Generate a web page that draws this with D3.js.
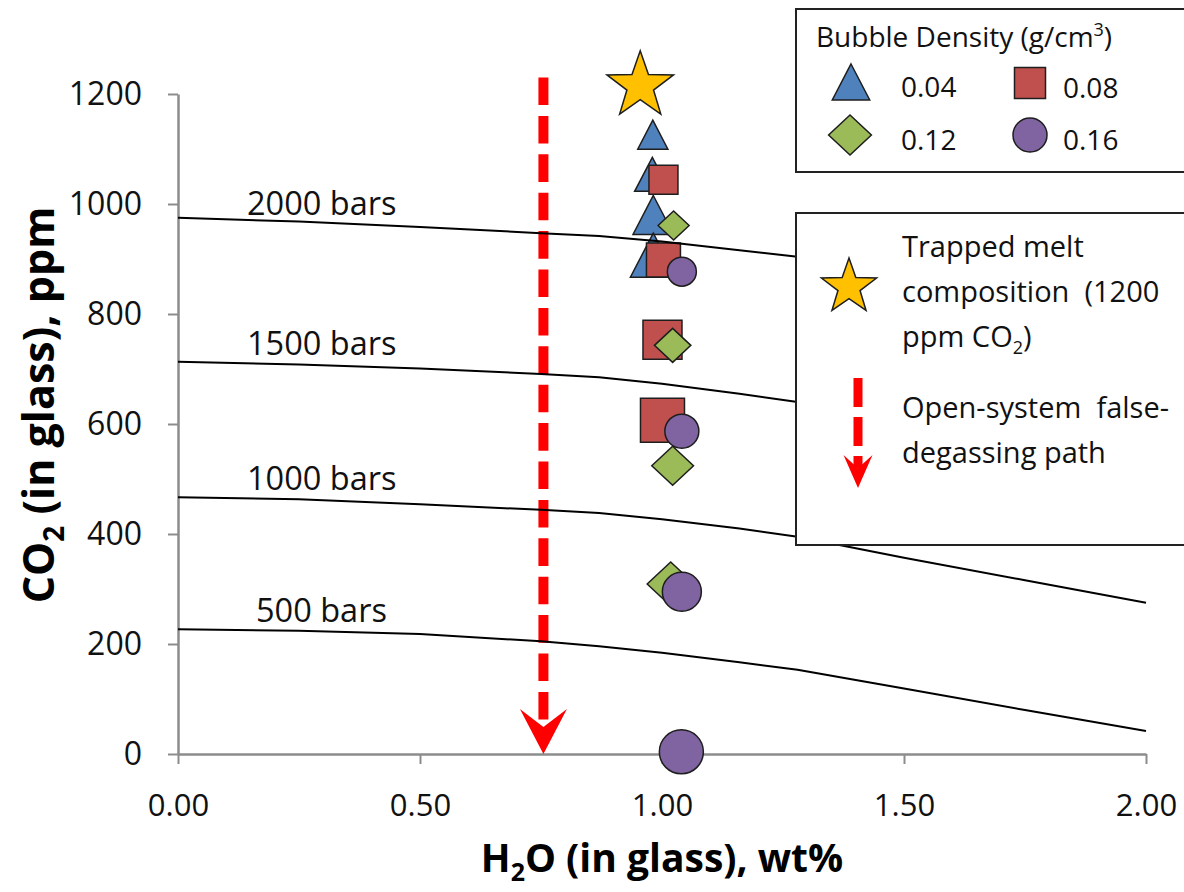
<!DOCTYPE html>
<html>
<head>
<meta charset="utf-8">
<script src="https://cdn.jsdelivr.net/npm/d3@7"></script>
<style>
  body { margin: 0; background: #fff; }
  svg { display: block; font-family: 'Open Sans', sans-serif; }
</style>
</head>
<body>
<div id="container"></div>
<script>
// ---- values ----
const xTicks = [0, 0.5, 1.0, 1.5, 2.0]
const yTicks = [0, 200, 400, 600, 800, 1000, 1200]

// isobars, all on one H2O grid (wt%) -> CO2 (ppm)
const isobarH2O = [0, 0.25, 0.5, 0.75, 0.87, 1.0, 1.16, 1.28, 1.5, 1.75, 2.0]
const isobarNames = ['2000 bars', '1500 bars', '1000 bars', '500 bars']
const co2Bars2000 = [975, 968, 958, 947, 942, 932, 916, 904, 868, 828, 790]
const co2Bars1500 = [713, 708, 701, 691, 685, 673, 655, 640, 610, 575, 540]
const co2Bars1000 = [467, 463, 454, 444, 438, 427, 410, 395, 357, 316, 275]
const co2Bars500 = [227, 224, 218, 205, 196, 184, 167, 153, 119, 80, 42]

// bubble density groups (g/cm3)
const densityLabels = ['0.04', '0.08', '0.12', '0.16']
const h2oD004 = [0.981, 0.980, 0.982, 0.982]
const co2D004 = [1126, 1054, 980, 907]
const h2oD008 = [1.003, 1.003, 1.001, 1.001]
const co2D008 = [1044, 898, 753, 607]
const h2oD012 = [1.024, 1.022, 1.022, 1.018]
const co2D012 = [961, 743, 524, 309]
const h2oD016 = [1.041, 1.041, 1.041, 1.040]
const co2D016 = [877, 587, 295, 4]

// trapped melt composition (star)
const meltH2O = [0.955]
const meltCO2 = [1215]

// open-system false-degassing path (red dashed arrow)
const pathH2O = [0.755, 0.755]
const pathCO2 = [1230, 0]

// ---- chart setup ----
const width = 1184
const height = 892
const colors = ['#4f81bd', '#c0504d', '#9bbb59', '#8064a2']
const shapes = ['triangle', 'square', 'diamond', 'circle']
const axisGray = '#8c8c8c'

const x = d3.scaleLinear().domain([0, 2]).range([178, 1146])
const y = d3.scaleLinear().domain([0, 1200]).range([754, 94])
// markers grow along each series
const markerSize = d3.scaleLinear().domain([0, 3]).range([29, 44])

const svg = d3.create('svg')
    .attr('width', width)
    .attr('height', height)

// shape path centred at 0,0
function shapePath(kind, s) {
  const h = s / 2
  if (kind === 'triangle') {
    const w = s * 1.04 / 2
    return `M0,${-h}L${w},${h}L${-w},${h}Z`
  }
  if (kind === 'square') return `M${-h},${-h}H${h}V${h}H${-h}Z`
  if (kind === 'diamond') {
    const w = s * 1.07 / 2
    return `M0,${-h}L${w},0L0,${h}L${-w},0Z`
  }
  return d3.arc()({ innerRadius: 0, outerRadius: h, startAngle: 0, endAngle: 2 * Math.PI })
}

function starPath(R) {
  const r = R * 0.4
  const pts = []
  for (let i = 0; i < 10; i++) {
    const a = -Math.PI / 2 + i * Math.PI / 5
    const rad = i % 2 === 0 ? R : r
    pts.push([rad * Math.cos(a), rad * Math.sin(a)])
  }
  return 'M' + pts.map(p => p.join(',')).join('L') + 'Z'
}

function arrowHead(w, h) {
  // chevron with a notch, tip at 0,0
  return `M0,0L${-w / 2},${-h}L0,${-h * 0.6}L${w / 2},${-h}Z`
}

// axes
const xAxis = svg.append('g')
    .attr('transform', `translate(0,${y(0)})`)
    .call(d3.axisBottom(x)
        .tickValues(xTicks)
        .tickFormat(d3.format('.2f'))
        .tickSize(10)
        .tickSizeOuter(0)
        .tickPadding(30))
xAxis.attr('font-family', null).attr('font-size', 31)
xAxis.select('.domain').attr('stroke', axisGray).attr('stroke-width', 2.5)
xAxis.selectAll('.tick line').attr('stroke', axisGray).attr('stroke-width', 2)
xAxis.selectAll('.tick text').attr('fill', '#111')

const yAxis = svg.append('g')
    .attr('transform', `translate(${x(0)},0)`)
    .call(d3.axisLeft(y)
        .tickValues(yTicks)
        .tickFormat(d3.format('d'))
        .tickSize(10)
        .tickSizeOuter(0)
        .tickPadding(26))
yAxis.attr('font-family', null).attr('font-size', 32)
yAxis.select('.domain').attr('stroke', axisGray).attr('stroke-width', 2.5)
yAxis.selectAll('.tick line').attr('stroke', axisGray).attr('stroke-width', 2)
yAxis.selectAll('.tick text').attr('fill', '#111')

// axis titles
const xTitle = svg.append('text')
    .attr('x', 662)
    .attr('y', 872)
    .attr('text-anchor', 'middle')
    .attr('font-weight', 'bold')
    .attr('font-size', 39)
xTitle.append('tspan').text('H')
xTitle.append('tspan').attr('font-size', 25).attr('dy', 9).text('2')
xTitle.append('tspan').attr('dy', -9).text('O (in glass), wt%')

const yTitle = svg.append('text')
    .attr('transform', `translate(54,405) rotate(-90)`)
    .attr('text-anchor', 'middle')
    .attr('font-weight', 'bold')
    .attr('font-size', 43)
yTitle.append('tspan').text('CO')
yTitle.append('tspan').attr('font-size', 28).attr('dy', 10).text('2')
yTitle.append('tspan').attr('dy', -10).text(' (in glass), ppm')

// red dashed degassing path
const headW = 47
const headH = 45
svg.append('line')
    .attr('x1', x(pathH2O[0]))
    .attr('x2', x(pathH2O[1]))
    .attr('y1', y(pathCO2[0]))
    .attr('y2', y(pathCO2[1]) - headH * 0.6)
    .attr('stroke', '#ff0000')
    .attr('stroke-width', 10)
    .attr('stroke-dasharray', '27.6 10.8')
svg.append('path')
    .attr('transform', `translate(${x(pathH2O[1])},${y(pathCO2[1])})`)
    .attr('d', arrowHead(headW, headH))
    .attr('fill', '#ff0000')

// data markers, one group per density
const groups = [
  { h2o: h2oD004, co2: co2D004 },
  { h2o: h2oD008, co2: co2D008 },
  { h2o: h2oD012, co2: co2D012 },
  { h2o: h2oD016, co2: co2D016 }
]
groups.forEach((g, gi) => {
  svg.append('g')
    .selectAll('path')
    .data(g.h2o.map((h, i) => ({ h2o: h, co2: g.co2[i], i })))
    .enter()
    .append('path')
      .attr('transform', d => `translate(${x(d.h2o)},${y(d.co2)})`)
      .attr('d', d => shapePath(shapes[gi], markerSize(d.i)))
      .attr('fill', colors[gi])
      .attr('stroke', '#1e1e1e')
      .attr('stroke-width', 1.5)
})

// trapped melt star
svg.append('path')
    .attr('transform', `translate(${x(meltH2O[0])},${y(meltCO2[0])})`)
    .attr('d', starPath(35))
    .attr('fill', '#ffc000')
    .attr('stroke', '#1e1e1e')
    .attr('stroke-width', 1.5)

// isobars (drawn over the markers, as in the original)
const isobars = [co2Bars2000, co2Bars1500, co2Bars1000, co2Bars500]
const line = d3.line()
    .x((d, i) => x(isobarH2O[i]))
    .y(d => y(d))
isobars.forEach((vals, i) => {
  svg.append('path')
      .attr('d', line(vals))
      .attr('fill', 'none')
      .attr('stroke', '#000')
      .attr('stroke-width', 2)
  svg.append('text')
      .attr('x', x(0) + (i === 3 ? 78 : 69))
      .attr('y', y(vals[0]) - (i === 0 ? 3 : 7))
      .attr('font-size', 32.5)
      .attr('fill', '#111')
      .text(isobarNames[i])
})

// ---- legend: bubble density ----
svg.append('rect')
    .attr('x', 796).attr('y', 9)
    .attr('width', 420).attr('height', 163)
    .attr('fill', '#fff')
    .attr('stroke', '#222')
    .attr('stroke-width', 2)
const legTitle = svg.append('text')
    .attr('x', 816).attr('y', 47)
    .attr('font-size', 28)
    .attr('fill', '#111')
legTitle.append('tspan').text('Bubble Density (g/cm')
legTitle.append('tspan').attr('font-size', 18).attr('dy', -11).text('3')
legTitle.append('tspan').attr('dy', 11).text(')')

const legPos = [[851, 82], [1030, 83], [850, 135], [1030, 135]]
const legSize = [36, 31, 40, 34]
densityLabels.forEach((lab, i) => {
  svg.append('path')
      .attr('transform', `translate(${legPos[i][0]},${legPos[i][1]})`)
      .attr('d', shapePath(shapes[i], legSize[i]))
      .attr('fill', colors[i])
      .attr('stroke', '#1e1e1e')
      .attr('stroke-width', 1.5)
  svg.append('text')
      .attr('x', i % 2 === 0 ? 901 : 1063)
      .attr('y', legPos[i][1] + 15)
      .attr('font-size', 28)
      .attr('fill', '#111')
      .text(lab)
})

// ---- legend: star + path ----
svg.append('rect')
    .attr('x', 796).attr('y', 213)
    .attr('width', 420).attr('height', 332)
    .attr('fill', '#fff')
    .attr('stroke', '#222')
    .attr('stroke-width', 2)
svg.append('path')
    .attr('transform', 'translate(849,287)')
    .attr('d', starPath(29))
    .attr('fill', '#ffc000')
    .attr('stroke', '#1e1e1e')
    .attr('stroke-width', 1.5)

const legendLines = [
  { y: 257, parts: [['Trapped melt']] },
  { y: 302, parts: [['composition  (1200']] },
  { y: 347, parts: [['ppm CO'], ['2', 'sub'], [')']] },
  { y: 418, parts: [['Open-system  false-']] },
  { y: 463, parts: [['degassing path']] }
]
legendLines.forEach(l => {
  const t = svg.append('text')
      .attr('x', 902).attr('y', l.y)
      .attr('font-size', 29)
      .attr('fill', '#111')
      .style('white-space', 'pre')
  l.parts.forEach(p => {
    const ts = t.append('tspan').text(p[0])
    if (p[1] === 'sub') ts.attr('font-size', 18).attr('dy', 7)
    else if (t.selectAll('tspan').size() > 1) ts.attr('dy', -7)
  })
})

svg.append('line')
    .attr('x1', 858).attr('x2', 858)
    .attr('y1', 378).attr('y2', 468)
    .attr('stroke', '#ff0000')
    .attr('stroke-width', 9)
    .attr('stroke-dasharray', '29 10')
svg.append('path')
    .attr('transform', 'translate(858,488)')
    .attr('d', arrowHead(29, 33))
    .attr('fill', '#ff0000')

d3.select('#container').append(() => svg.node())
</script>
</body>
</html>
